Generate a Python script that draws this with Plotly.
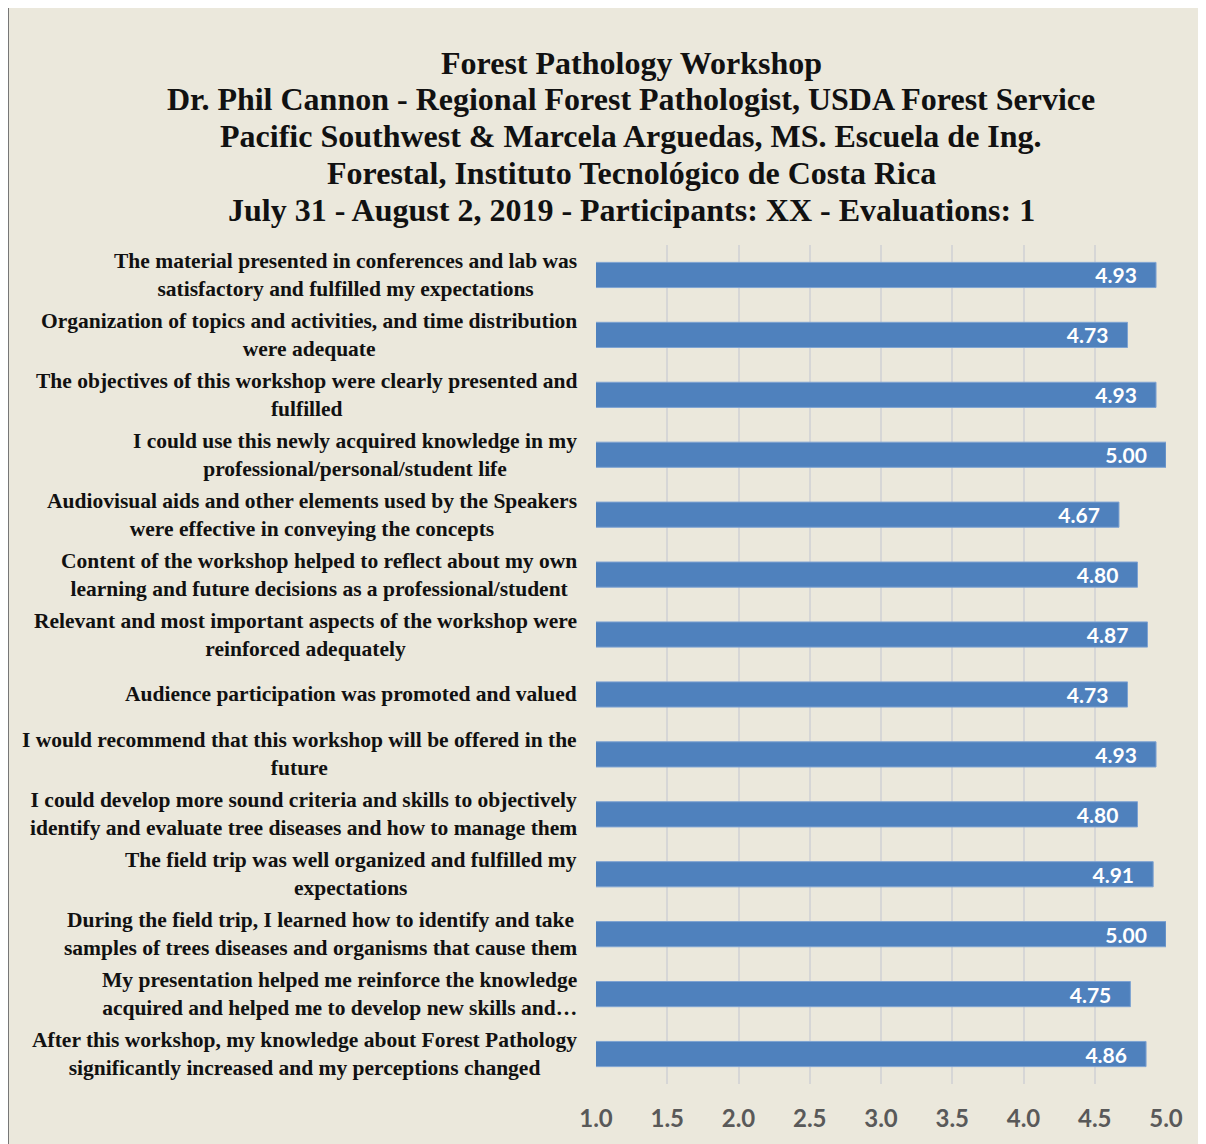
import plotly.graph_objects as go

categories = [
    "The material presented in conferences and lab was<br>satisfactory and fulfilled my expectations",
    "Organization of topics and activities, and time distribution<br>were adequate",
    "The objectives of this workshop were clearly presented and<br>fulfilled",
    "I could use this newly acquired knowledge in my<br>professional/personal/student life",
    "Audiovisual aids and other elements used by the Speakers<br>were effective in conveying the concepts",
    "Content of the workshop helped to reflect about my own<br>learning and future decisions as a professional/student",
    "Relevant and most important aspects of the workshop were<br>reinforced adequately",
    "Audience participation was promoted and valued",
    "I would recommend that this workshop will be offered in the<br>future",
    "I could develop more sound criteria and skills to objectively<br>identify and evaluate tree diseases and how to manage them",
    "The field trip was well organized and fulfilled my<br>expectations",
    "During the field trip, I learned how to identify and take<br>samples of trees diseases and organisms that cause them",
    "My presentation helped me reinforce the knowledge<br>acquired and helped me to develop new skills and…",
    "After this workshop, my knowledge about Forest Pathology<br>significantly increased and my perceptions changed",
]
scores = [4.93, 4.73, 4.93, 5.00, 4.67, 4.80, 4.87, 4.73, 4.93, 4.80, 4.91, 5.00, 4.75, 4.86]
x_ticks = [1.0, 1.5, 2.0, 2.5, 3.0, 3.5, 4.0, 4.5, 5.0]
x_tick_labels = ["1.0", "1.5", "2.0", "2.5", "3.0", "3.5", "4.0", "4.5", "5.0"]
title_lines = [
    "Forest Pathology Workshop",
    "Dr. Phil Cannon - Regional Forest Pathologist, USDA Forest Service",
    "Pacific Southwest & Marcela Arguedas, MS. Escuela de Ing.",
    "Forestal, Instituto Tecnológico de Costa Rica",
    "July 31 - August 2, 2019 - Participants: XX - Evaluations: 1",
]

# page offset of the figure (body margin)
OFF = 8
W, H = 1206, 1144
L, T = 596 - OFF, 245 - OFF
PR, PB = 1166 - OFF, 1084 - OFF
R, B = W - PR, H - PB
pw, ph = PR - L, PB - T
BG = "#EBE8DC"
SERIF = "Liberation Serif, Times New Roman, serif"
SANS = "Lato, Open Sans, sans-serif"


def py(page_y):
    return (PB - (page_y - OFF)) / ph


def px(page_x):
    return (page_x - OFF - L) / pw


fig = go.Figure()
fig.add_trace(go.Bar(
    x=scores, y=categories, orientation="h",
    marker=dict(color="#4F81BD", line=dict(color="#7EA3D2", width=1)),
    texttemplate="<b>%{x:.2f}</b>\u00a0\u00a0\u00a0", textposition="inside", insidetextanchor="end",
    constraintext="none",
    textfont=dict(family=SANS, size=21, color="white"),
    textangle=0, cliponaxis=False, hoverinfo="skip",
))

annotations = []
for c in categories:
    annotations.append(dict(
        xref="paper", yref="y", x=px(579), y=c, text="<b>" + c + "</b>",
        xanchor="right", yanchor="middle", align="center", showarrow=False,
        font=dict(family=SERIF, size=21.5, color="#111111"),
    ))

title_y = [63, 99, 136, 173, 210]
for t, ty in zip(title_lines, title_y):
    annotations.append(dict(
        xref="paper", yref="paper", x=px(631), y=py(ty), text="<b>" + t + "</b>",
        xanchor="center", yanchor="middle", showarrow=False,
        font=dict(family=SERIF, size=32, color="#111111"),
    ))

fig.update_layout(
    width=W, height=H,
    margin=dict(l=L, r=R, t=T, b=B),
    paper_bgcolor=BG, plot_bgcolor="rgba(0,0,0,0)",
    showlegend=False,
    bargap=0.58,
    xaxis=dict(
        range=[1.0, 5.0], tickvals=x_ticks, ticktext=["<b>" + t + "</b>" for t in x_tick_labels],
        showgrid=True, gridcolor="#D6D6D6", gridwidth=2, zeroline=False, showline=False,
        ticks="", ticklabelstandoff=18,
        tickfont=dict(family=SANS, size=24, color="#595959"),
    ),
    yaxis=dict(
        autorange="reversed", showticklabels=False, showgrid=False, zeroline=False,
        showline=False, ticks="",
    ),
    annotations=annotations,
    shapes=[
        dict(type="line", xref="paper", yref="paper", x0=px(OFF), x1=px(OFF),
             y0=py(OFF - 1), y1=py(H + 20), line=dict(color="#777777", width=2)),
        dict(type="line", xref="paper", yref="paper", x0=px(OFF), x1=px(W + 20),
             y0=py(OFF - 1), y1=py(OFF - 1), line=dict(color="#222222", width=1.5)),
    ],
)

fig.write_html("out.html")
